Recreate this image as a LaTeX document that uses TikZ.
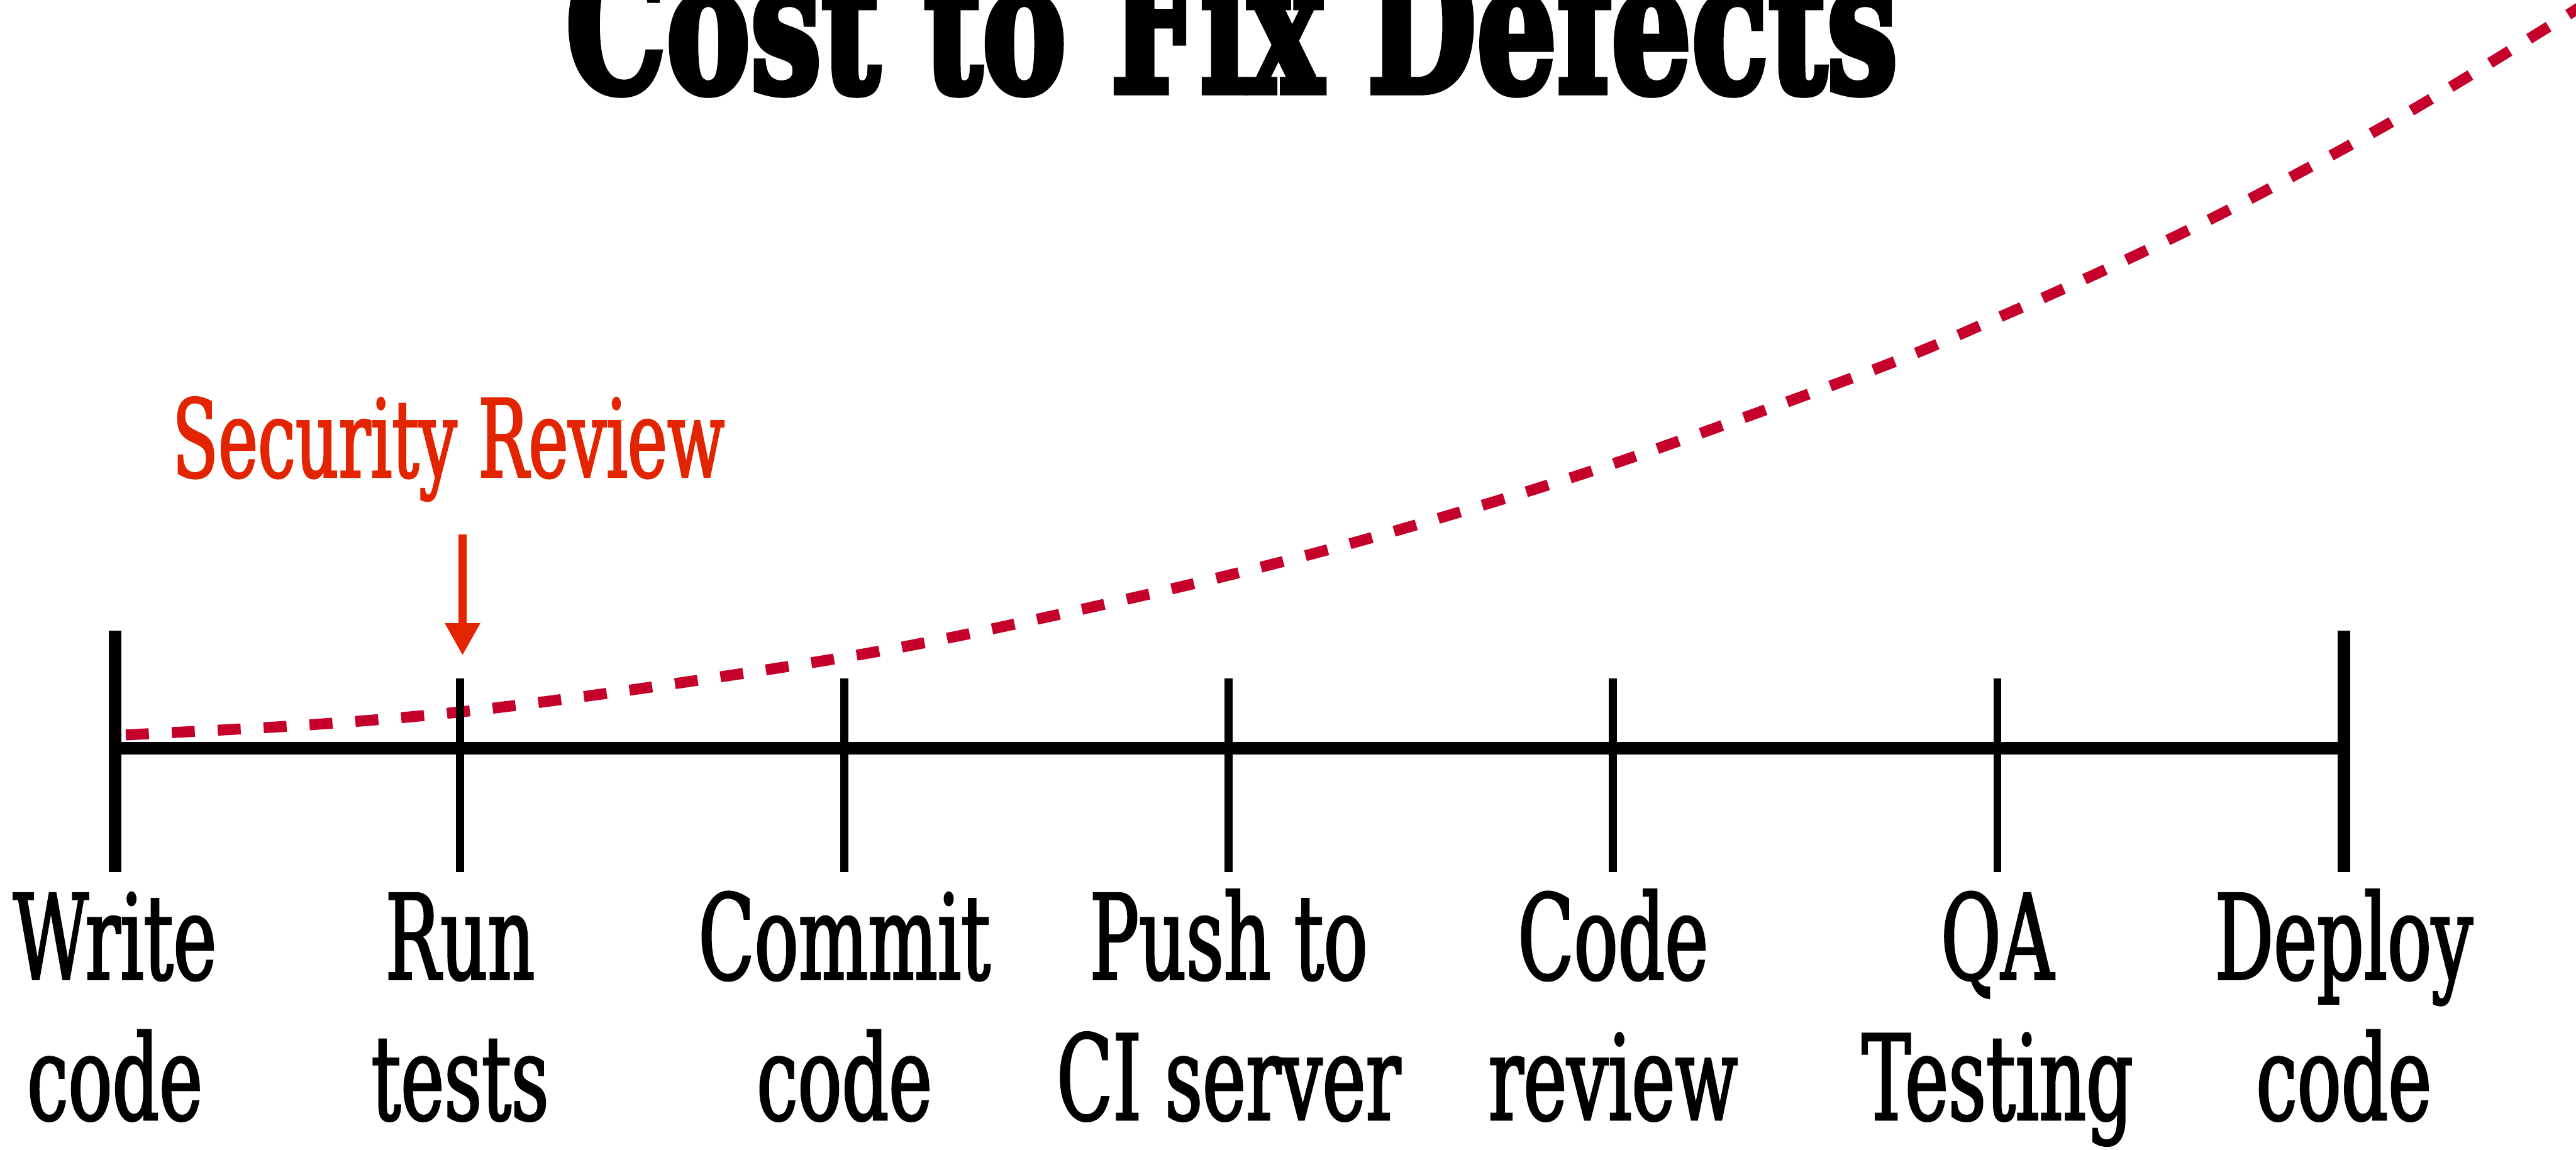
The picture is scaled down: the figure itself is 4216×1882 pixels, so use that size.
\documentclass[tikz,border=0pt]{standalone}
\usepackage{fontspec}
\usetikzlibrary{arrows.meta}
\setmainfont{DejaVu Serif}
% condensed slab-style faces for the stage names and the heading
\newfontfamily\stagefont{DejaVu Serif}[FakeStretch=0.62, FakeBold=1.6]
\newfontfamily\headfont{DejaVu Serif}[UprightFont=* Bold, FakeBold=4]
\definecolor{costred}{RGB}{196,0,43}
\definecolor{callred}{RGB}{226,36,0}

\begin{document}
\begin{tikzpicture}[x=0.01cm, y=-0.01cm,
  costcurve/.style={draw=costred, line width=5.1pt, dash pattern=on 10.7pt off 10.7pt},
  timeline/.style={line width=6pt},
  endbar/.style={line width=5.8pt},
  tickmark/.style={line width=3.8pt},
  stagetext/.style={anchor=base, inner sep=0pt, font=\stagefont\fontsize{55}{66}\selectfont},
  callout/.style={anchor=base, inner sep=0pt, text=callred, font=\stagefont\fontsize{50.3}{60}\selectfont},
  calloutarrow/.style={draw=callred, line width=3.7pt, -{Triangle[length=15pt,width=15.4pt]}},
  headline/.style={anchor=base, inner sep=0pt, font=\headfont\fontsize{86}{90}\selectfont}]

\useasboundingbox (0,0) rectangle (4216,1882);
\fill[white] (0,0) rectangle (4216,1882);

% heading, partly above the top edge
\node[headline] (title) at (2016,150) {\resizebox{620pt}{\height}{Cost to Fix Defects}};

% rising cost curve
\draw[costcurve] plot[smooth, tension=0.55] coordinates {
  (206,1203) (500,1187) (757,1165) (1043,1128) (1382,1076) (1631,1028)
  (1989,947) (2284,869) (2638,760) (3062,607) (3268,521) (3472,429)
  (3674,330) (3936,187) (4190,32) (4240,0)};

% timeline with end bars and stage ticks
\coordinate (start) at (188,1225);
\coordinate (finish) at (3836,1225);
\draw[timeline] (start) -- (finish);
\coordinate (starttop) at (188,1032);
\coordinate (startbot) at (188,1428);
\coordinate (finishtop) at (3836,1032);
\coordinate (finishbot) at (3836,1428);
\draw[endbar] (starttop) -- (startbot);
\draw[endbar] (finishtop) -- (finishbot);
\foreach \i/\x in {1/753,2/1382,3/2011,4/2640,5/3269}{
  \coordinate (ticktop\i) at (\x,1111);
  \coordinate (tickbot\i) at (\x,1428);
  \draw[tickmark] (ticktop\i) -- (tickbot\i);
}

% stage names
\node[stagetext] (writeA)  at (188,1603)  {Write};
\node[stagetext] (writeB)  at (188,1833)  {code};
\node[stagetext] (runA)    at (753,1603)  {Run};
\node[stagetext] (runB)    at (753,1833)  {tests};
\node[stagetext] (commitA) at (1382,1603) {Commit};
\node[stagetext] (commitB) at (1382,1833) {code};
\node[stagetext] (pushA)   at (2011,1603) {Push to};
\node[stagetext] (pushB)   at (2011,1833) {CI server};
\node[stagetext] (reviewA) at (2640,1603) {Code};
\node[stagetext] (reviewB) at (2640,1833) {review};
\node[stagetext] (qaA)     at (3269,1603) {QA};
\node[stagetext] (qaB)     at (3269,1833) {Testing};
\node[stagetext] (deployA) at (3836,1603) {Deploy};
\node[stagetext] (deployB) at (3836,1833) {code};

% security review callout
\node[callout] (security) at (734,781) {Security Review};
\coordinate (arrowtop) at (757,875);
\coordinate (arrowtip) at (757,1073);
\draw[calloutarrow] (arrowtop) -- (arrowtip);
\end{tikzpicture}
\end{document}
